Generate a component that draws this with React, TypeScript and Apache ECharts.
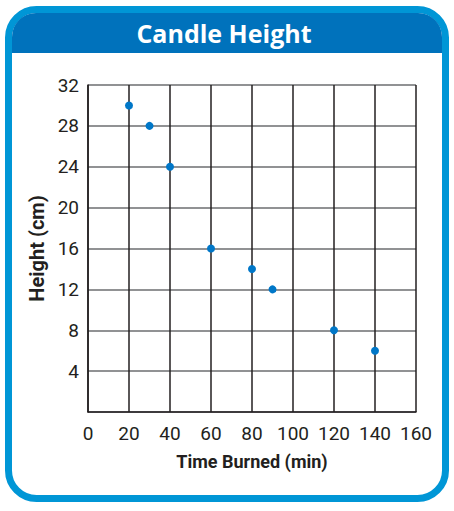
import React, { useEffect, useRef } from "react";
import * as echarts from "echarts";

const title = "Candle Height";
const xName = "Time Burned (min)";
const yName = "Height (cm)";
const timeMin = [20, 30, 40, 60, 80, 90, 120, 140];
const heightCm = [30, 28, 24, 16, 14, 12, 8, 6];
const xTicks = [0, 20, 40, 60, 80, 100, 120, 140, 160];
const yTicks = [0, 4, 8, 12, 16, 20, 24, 28, 32];

const narrow = "Roboto, 'Liberation Sans', sans-serif";

export default function App() {
  const ref = useRef<HTMLDivElement>(null);
  useEffect(() => {
    if (!ref.current) return;
    const chart = echarts.init(ref.current, undefined, { renderer: "svg" });
    chart.setOption({
      animation: false,
      backgroundColor: "#ffffff",
      graphic: [
        {
          type: "rect",
          z: -10,
          silent: true,
          shape: { x: 8.5, y: 9.5, width: 437, height: 489, r: 28 },
          style: { fill: "#ffffff", stroke: "#0096d6", lineWidth: 7 },
        },
        {
          type: "rect",
          z: -9,
          silent: true,
          shape: { x: 12, y: 13, width: 430, height: 40, r: [24, 24, 0, 0] },
          style: { fill: "#0072bc" },
        },
        {
          type: "text",
          silent: true,
          x: 224,
          y: 33,
          style: {
            text: title,
            fill: "#ffffff",
            font: "bold 25px 'Open Sans', 'Noto Sans', sans-serif",
            align: "center",
            verticalAlign: "middle",
          },
        },
      ],
      grid: { left: 88, right: 38, top: 85, bottom: 99 },
      xAxis: {
        type: "value",
        min: xTicks[0],
        max: xTicks[xTicks.length - 1],
        interval: 20,
        name: xName,
        nameLocation: "middle",
        nameGap: 40,
        nameTextStyle: { fontFamily: narrow, fontWeight: "bold", fontSize: 18, color: "#231f20" },
        axisLine: { show: true, lineStyle: { color: "#231f20", width: 1.5 } },
        axisTick: { show: false },
        axisLabel: { fontFamily: narrow, fontSize: 19, color: "#231f20", margin: 12 },
        splitLine: { show: true, lineStyle: { color: "#231f20", width: 1.5 } },
      },
      yAxis: {
        type: "value",
        min: yTicks[0],
        max: yTicks[yTicks.length - 1],
        interval: 4,
        name: yName,
        nameLocation: "middle",
        nameGap: 30,
        nameTextStyle: { fontFamily: narrow, fontWeight: "bold", fontSize: 20, color: "#231f20" },
        axisLine: { show: true, lineStyle: { color: "#231f20", width: 1.5 } },
        axisTick: { show: false },
        axisLabel: {
          fontFamily: narrow,
          fontSize: 19,
          color: "#231f20",
          margin: 9,
          formatter: (v: number) => (v === 0 ? "" : String(v)),
        },
        splitLine: { show: true, lineStyle: { color: "#6d6e71", width: 1.5 } },
      },
      series: [
        {
          type: "scatter",
          data: timeMin.map((t, i) => [t, heightCm[i]]),
          symbol: "circle",
          symbolSize: 8,
          itemStyle: { color: "#0077c8", opacity: 1 },
          z: 5,
        },
      ],
    });
    return () => chart.dispose();
  }, []);
  return <div ref={ref} style={{ position: "fixed", left: 0, top: 0, width: 454, height: 511 }} />;
}
